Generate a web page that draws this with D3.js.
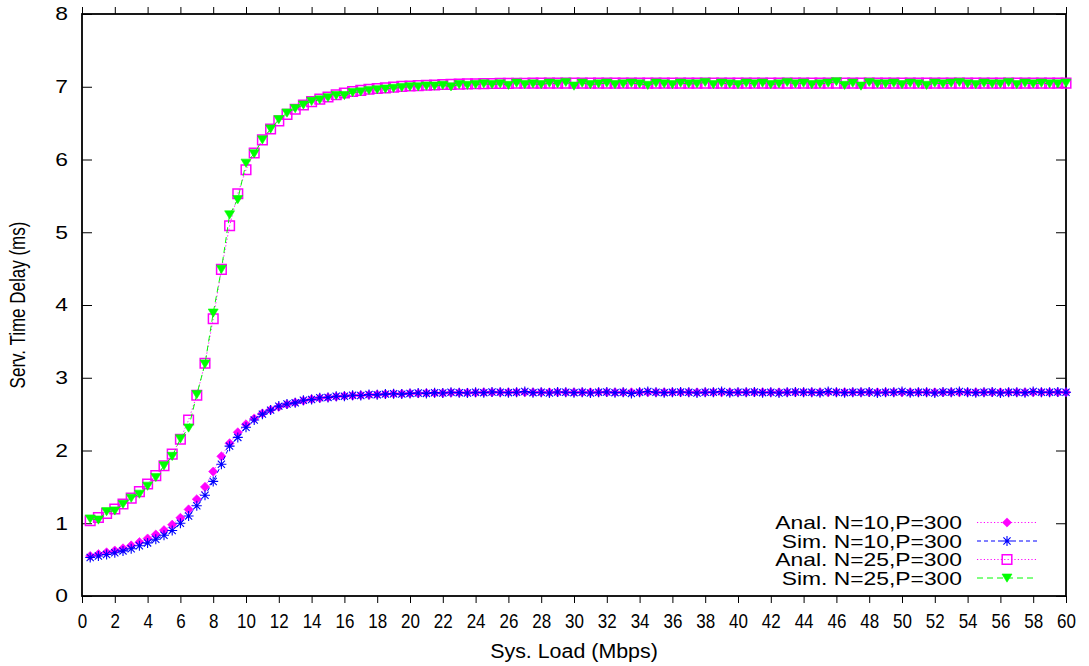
<!DOCTYPE html>
<html>
<head>
<meta charset="utf-8">
<script src="https://cdn.jsdelivr.net/npm/d3@7"></script>
<style>
  html, body { margin: 0; padding: 0; background: #fff; }
  svg { display: block; }
  text { font-family: "Liberation Sans", Arial, sans-serif; fill: #000; }
</style>
</head>
<body>
<svg id="chart" width="1089" height="666"></svg>
<script>
// System load (Mbps)
const load = [
  0.5, 1, 1.5, 2, 2.5, 3, 3.5, 4, 4.5, 5, 5.5, 6, 6.5, 7, 7.5, 8, 8.5, 9, 9.5, 10,
  10.5, 11, 11.5, 12, 12.5, 13, 13.5, 14, 14.5, 15, 15.5, 16, 16.5, 17, 17.5, 18, 18.5, 19, 19.5, 20,
  20.5, 21, 21.5, 22, 22.5, 23, 23.5, 24, 24.5, 25, 25.5, 26, 26.5, 27, 27.5, 28, 28.5, 29, 29.5, 30,
  30.5, 31, 31.5, 32, 32.5, 33, 33.5, 34, 34.5, 35, 35.5, 36, 36.5, 37, 37.5, 38, 38.5, 39, 39.5, 40,
  40.5, 41, 41.5, 42, 42.5, 43, 43.5, 44, 44.5, 45, 45.5, 46, 46.5, 47, 47.5, 48, 48.5, 49, 49.5, 50,
  50.5, 51, 51.5, 52, 52.5, 53, 53.5, 54, 54.5, 55, 55.5, 56, 56.5, 57, 57.5, 58, 58.5, 59, 59.5, 60
];

// Service time delay (ms), analytical model, N=10, P=300
const anal10 = [
  0.55, 0.575, 0.60, 0.625, 0.655, 0.695, 0.74, 0.79, 0.845, 0.905,
  0.98, 1.075, 1.19, 1.33, 1.50, 1.71, 1.92, 2.10, 2.25, 2.36,
  2.44, 2.51, 2.56, 2.60, 2.635, 2.66, 2.685, 2.705, 2.72, 2.73,
  2.74, 2.75, 2.755, 2.76, 2.765, 2.77, 2.775, 2.78, 2.78, 2.785,
  2.785, 2.79, 2.79, 2.79, 2.795, 2.795, 2.795, 2.795, 2.80, 2.80,
  2.80, 2.80, 2.80, 2.80, 2.80, 2.80, 2.80, 2.80, 2.80, 2.80,
  2.80, 2.80, 2.80, 2.80, 2.80, 2.80, 2.80, 2.80, 2.80, 2.80,
  2.80, 2.80, 2.80, 2.80, 2.80, 2.80, 2.80, 2.80, 2.80, 2.80,
  2.80, 2.80, 2.80, 2.80, 2.80, 2.80, 2.80, 2.80, 2.80, 2.80,
  2.80, 2.80, 2.80, 2.80, 2.80, 2.80, 2.80, 2.80, 2.80, 2.80,
  2.80, 2.80, 2.80, 2.80, 2.80, 2.80, 2.80, 2.80, 2.80, 2.80,
  2.80, 2.80, 2.80, 2.80, 2.80, 2.80, 2.80, 2.80, 2.80, 2.80
];

// Simulation, N=10, P=300
const sim10 = [
  0.53, 0.55, 0.57, 0.595, 0.62, 0.65, 0.69, 0.73, 0.78, 0.835,
  0.90, 1.00, 1.10, 1.24, 1.385, 1.575, 1.81, 2.06, 2.18, 2.32,
  2.42, 2.50, 2.555, 2.61, 2.64, 2.655, 2.69, 2.70, 2.725, 2.73,
  2.745, 2.745, 2.76, 2.755, 2.77, 2.765, 2.775, 2.78, 2.775, 2.785,
  2.79, 2.785, 2.795, 2.79, 2.80, 2.795, 2.79, 2.80, 2.795, 2.805,
  2.80, 2.795, 2.80, 2.81, 2.795, 2.80, 2.79, 2.805, 2.80, 2.795,
  2.80, 2.79, 2.80, 2.805, 2.795, 2.80, 2.785, 2.80, 2.81, 2.80,
  2.795, 2.80, 2.805, 2.80, 2.79, 2.80, 2.80, 2.81, 2.795, 2.80,
  2.80, 2.805, 2.795, 2.80, 2.79, 2.80, 2.805, 2.80, 2.80, 2.795,
  2.81, 2.80, 2.795, 2.80, 2.80, 2.805, 2.79, 2.80, 2.80, 2.81,
  2.795, 2.80, 2.80, 2.79, 2.805, 2.80, 2.81, 2.80, 2.795, 2.80,
  2.805, 2.79, 2.80, 2.80, 2.795, 2.81, 2.80, 2.80, 2.805, 2.80
];

// Analytical model, N=25, P=300
const anal25 = [
  1.035, 1.08, 1.135, 1.195, 1.265, 1.345, 1.435, 1.54, 1.655, 1.79,
  1.95, 2.155, 2.42, 2.76, 3.20, 3.81, 4.49, 5.09, 5.53, 5.86,
  6.09, 6.27, 6.42, 6.53, 6.62, 6.69, 6.75, 6.795, 6.83, 6.86,
  6.89, 6.915, 6.935, 6.95, 6.965, 6.975, 6.985, 6.995, 7.005, 7.01,
  7.015, 7.02, 7.025, 7.03, 7.033, 7.036, 7.039, 7.041, 7.043, 7.045,
  7.046, 7.047, 7.048, 7.049, 7.05, 7.05, 7.05, 7.05, 7.05, 7.05,
  7.05, 7.05, 7.05, 7.05, 7.05, 7.05, 7.05, 7.05, 7.05, 7.05,
  7.05, 7.05, 7.05, 7.05, 7.05, 7.05, 7.05, 7.05, 7.05, 7.05,
  7.05, 7.05, 7.05, 7.05, 7.05, 7.05, 7.05, 7.05, 7.05, 7.05,
  7.05, 7.05, 7.05, 7.05, 7.05, 7.05, 7.05, 7.05, 7.05, 7.05,
  7.05, 7.05, 7.05, 7.05, 7.05, 7.05, 7.05, 7.05, 7.05, 7.05,
  7.05, 7.05, 7.05, 7.05, 7.05, 7.05, 7.05, 7.05, 7.05, 7.05
];

// Simulation, N=25, P=300
const sim25 = [
  1.06, 1.045, 1.16, 1.17, 1.26, 1.345, 1.40, 1.51, 1.63, 1.79,
  1.92, 2.16, 2.31, 2.77, 3.19, 3.89, 4.49, 5.24, 5.45, 5.95,
  6.08, 6.27, 6.42, 6.55, 6.64, 6.70, 6.75, 6.80, 6.82, 6.85,
  6.88, 6.88, 6.92, 6.93, 6.95, 6.96, 6.97, 6.98, 6.99, 7.00,
  7.00, 7.01, 7.01, 7.02, 7.00, 7.03, 7.02, 7.03, 7.04, 7.03,
  7.04, 7.02, 7.05, 7.03, 7.04, 7.03, 7.05, 7.04, 7.06, 7.01,
  7.05, 7.03, 7.04, 7.05, 7.03, 7.04, 7.05, 7.04, 7.02, 7.05,
  7.04, 7.03, 7.05, 7.04, 7.04, 7.06, 7.03, 7.05, 7.04, 7.03,
  7.05, 7.04, 7.05, 7.03, 7.04, 7.06, 7.04, 7.05, 7.03, 7.04,
  7.05, 7.07, 7.02, 7.05, 7.01, 7.06, 7.04, 7.04, 7.05, 7.03,
  7.05, 7.04, 7.02, 7.05, 7.04, 7.05, 7.06, 7.04, 7.03, 7.05,
  7.04, 7.04, 7.06, 7.03, 7.05, 7.04, 7.05, 7.04, 7.04, 7.05
];

const xTicks = [0, 2, 4, 6, 8, 10, 12, 14, 16, 18, 20, 22, 24, 26, 28, 30,
                32, 34, 36, 38, 40, 42, 44, 46, 48, 50, 52, 54, 56, 58, 60];
const yTicks = [0, 1, 2, 3, 4, 5, 6, 7, 8];

const seriesNames = ["Anal. N=10,P=300", "Sim. N=10,P=300", "Anal. N=25,P=300", "Sim. N=25,P=300"];

// ---- layout ----
const plotLeft = 82, plotRight = 1066, plotTop = 14, plotBottom = 596;
const stretch = 1.27;   // horizontal glyph stretch used for most text

const svg = d3.select("#chart");
const x = d3.scaleLinear().domain([0, 60]).range([plotLeft, plotRight]);
const y = d3.scaleLinear().domain([0, 8]).range([plotBottom, plotTop]);

// marker shapes
const shapes = {
  diamond: "M0,-4.6L4.6,0L0,4.6L-4.6,0Z",
  star: "M-5,0H5M0,-5V5M-3.6,-3.6L3.6,3.6M-3.6,3.6L3.6,-3.6",
  square: "M-4.8,-4.8H4.8V4.8H-4.8Z",
  tri: "M-5,-4H5L0,4.2Z"
};

const styles = [
  { data: anal10, color: "#ff00ff", dash: "1.2,2.2", shape: "diamond", fill: true },
  { data: sim10, color: "#0000ff", dash: "4,3", shape: "star", fill: false },
  { data: anal25, color: "#ff00ff", dash: "1.2,2.2", shape: "square", fill: false },
  { data: sim25, color: "#00ff00", dash: "6,4", shape: "tri", fill: true }
];

// ---- axes (ticks only; frame drawn separately) ----
const noDomain = g => g.select(".domain").remove();

// bottom axis: labels are slightly condensed; each label is scaled about its own anchor
svg.append("g")
  .attr("transform", `translate(0,${plotBottom})`)
  .call(d3.axisBottom(x).tickValues(xTicks).tickSize(7).tickPadding(11).tickFormat(d3.format("d")))
  .call(noDomain)
  .call(g => g.selectAll("line").attr("stroke", "#000").attr("stroke-width", 1))
  .call(g => g.selectAll("text").attr("font-size", 20).attr("font-family", "Liberation Sans, Arial, sans-serif")
      .attr("fill", "#000").attr("transform", "scale(0.85,1)"));

svg.append("g")
  .attr("transform", `translate(0,${plotTop})`)
  .call(d3.axisTop(x).tickValues(xTicks).tickSize(7).tickFormat(""))
  .call(noDomain)
  .call(g => g.selectAll("line").attr("stroke", "#000").attr("stroke-width", 1));

svg.append("g")
  .attr("transform", `translate(${plotLeft},0)`)
  .call(d3.axisLeft(y).tickValues(yTicks).tickSize(-10).tickPadding(11).tickFormat(d3.format("d")))
  .call(noDomain)
  .call(g => g.selectAll("line").attr("stroke", "#000").attr("stroke-width", 1))
  .call(g => g.selectAll("text").attr("font-size", 18).attr("font-family", "Liberation Sans, Arial, sans-serif")
      .attr("fill", "#000").attr("transform", `scale(${stretch},1)`));

svg.append("g")
  .attr("transform", `translate(${plotRight},0)`)
  .call(d3.axisRight(y).tickValues(yTicks).tickSize(-10).tickFormat(""))
  .call(noDomain)
  .call(g => g.selectAll("line").attr("stroke", "#000").attr("stroke-width", 1));

// frame
svg.append("rect")
  .attr("x", plotLeft).attr("y", plotTop)
  .attr("width", plotRight - plotLeft).attr("height", plotBottom - plotTop)
  .attr("fill", "none").attr("stroke", "#000").attr("stroke-width", 1.8);

// ---- series ----
const plot = svg.append("g");
const line = d3.line().x((d, i) => x(load[i])).y(d => y(d));

function marker(sel, s) {
  sel.attr("d", shapes[s.shape])
    .attr("fill", s.fill ? s.color : "none")
    .attr("stroke", s.color)
    .attr("stroke-width", s.shape === "square" ? 1.5 : (s.shape === "star" ? 1.1 : 0.6));
}

styles.forEach(s => {
  plot.append("path")
    .attr("d", line(s.data))
    .attr("fill", "none")
    .attr("stroke", s.color)
    .attr("stroke-width", 1)
    .attr("stroke-dasharray", s.dash);
  plot.append("g").selectAll("path")
    .data(s.data)
    .join("path")
    .attr("transform", (d, i) => `translate(${x(load[i])},${y(d)})`)
    .call(marker, s);
});

// ---- legend ----
const legendRows = [522.5, 541, 559.5, 578];
const legend = svg.append("g");
styles.forEach((s, i) => {
  const cy = legendRows[i];
  legend.append("text")
    .attr("transform", `translate(962,${cy + 6.5}) scale(${stretch},1)`)
    .attr("text-anchor", "end")
    .attr("font-size", 18)
    .text(seriesNames[i]);
  legend.append("line")
    .attr("x1", 977).attr("x2", 1037).attr("y1", cy).attr("y2", cy)
    .attr("stroke", s.color).attr("stroke-width", 1).attr("stroke-dasharray", s.dash);
  legend.append("path")
    .attr("transform", `translate(1007,${cy})`)
    .call(marker, s);
});

// ---- axis titles ----
svg.append("text")
  .attr("transform", `translate(${(plotLeft + plotRight) / 2},658) scale(1.07,1)`)
  .attr("text-anchor", "middle")
  .attr("font-size", 20)
  .text("Sys. Load (Mbps)");

svg.append("text")
  .attr("transform", `translate(25,${(plotTop + plotBottom) / 2}) scale(${stretch},1) rotate(-90)`)
  .attr("text-anchor", "middle")
  .attr("font-size", 17)
  .text("Serv. Time Delay (ms)");
</script>
</body>
</html>
